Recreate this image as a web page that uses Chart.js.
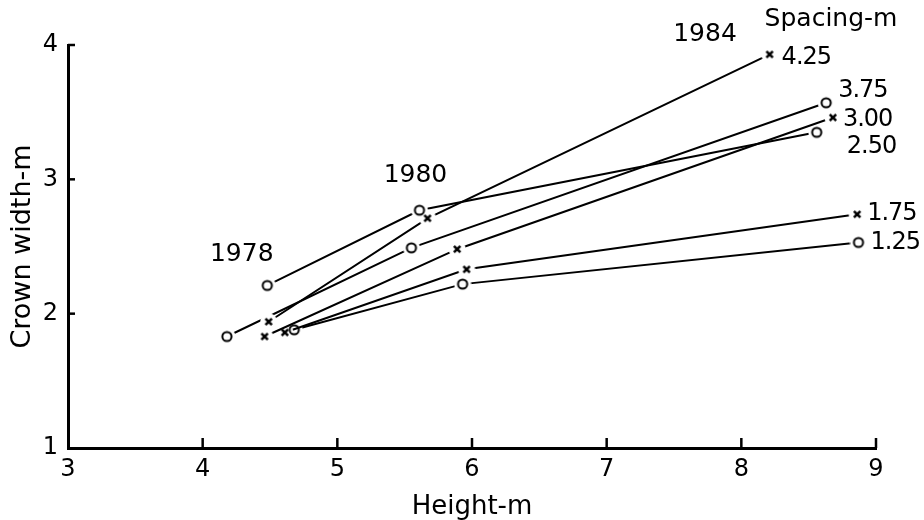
<!DOCTYPE html>
<html>
<head>
<meta charset="utf-8">
<script src="https://cdn.jsdelivr.net/npm/chart.js@4.4.1/dist/chart.umd.min.js"></script>
<style>
  html, body { margin: 0; padding: 0; background: #fff; }
  #wrap { width: 924px; height: 520px; }
</style>
</head>
<body>
<div id="wrap"><canvas id="chartCrown"></canvas></div>
<script>
// measurement years and spacings (m)
const years = ['1978', '1980', '1984'];
const spacings = ['4.25', '3.75', '3.00', '2.50', '1.75', '1.25'];
const markers = ['x', 'o', 'x', 'o', 'x', 'o'];

// mean height (m) per spacing, one value per year
const height425 = [4.49, 5.67, 8.21];
const height375 = [4.18, 5.55, 8.63];
const height300 = [4.46, 5.89, 8.68];
const height250 = [4.48, 5.61, 8.56];
const height175 = [4.61, 5.96, 8.86];
const height125 = [4.68, 5.93, 8.87];

// mean crown width (m) per spacing
const crown425 = [1.94, 2.71, 3.93];
const crown375 = [1.83, 2.49, 3.57];
const crown300 = [1.83, 2.48, 3.46];
const crown250 = [2.21, 2.77, 3.35];
const crown175 = [1.86, 2.33, 2.74];
const crown125 = [1.88, 2.22, 2.53];

const xTicks = [3, 4, 5, 6, 7, 8, 9];
const yTicks = [1, 2, 3, 4];

const heights = [height425, height375, height300, height250, height175, height125];
const crowns = [crown425, crown375, crown300, crown250, crown175, crown125];

// where the year captions sit, in data units
const yearSpots = [[4.29, 2.44], [5.58, 3.03], [7.73, 4.08]];
// label offsets (px) from the 1984 point of each line
const labelShift = [[12, 3], [12, -12], [10, 2], [30, 14], [10, 0], [12, 0]];

const FONT = '"DejaVu Sans", sans-serif';

// white disc under each point so the lines stop short of it
function makeHalo() {
    const c = document.createElement('canvas');
    c.width = 18; c.height = 18;
    const g = c.getContext('2d');
    g.fillStyle = '#fff';
    g.beginPath(); g.arc(9, 9, 8.5, 0, Math.PI * 2); g.fill();
    return c;
}

function makeMarker(kind) {
    const c = document.createElement('canvas');
    c.width = 16; c.height = 16;
    const g = c.getContext('2d');
    g.strokeStyle = '#000';
    if (kind === 'o') {
        g.lineWidth = 2;
        g.beginPath(); g.arc(8, 8, 4.6, 0, Math.PI * 2); g.stroke();
    } else {
        g.lineWidth = 2.6;
        g.beginPath();
        g.moveTo(4.8, 4.8); g.lineTo(11.2, 11.2);
        g.moveTo(11.2, 4.8); g.lineTo(4.8, 11.2);
        g.stroke();
    }
    return c;
}

const halo = makeHalo();

function seriesPoints(i) {
    return heights[i].map((h, k) => ({ x: h, y: crowns[i][k] }));
}

// lines first (with their halos), markers on top of everything
const lineSets = spacings.map((s, i) => ({
    label: s,
    data: seriesPoints(i),
    showLine: true,
    borderColor: '#000',
    borderWidth: 2,
    pointStyle: halo,
    pointRadius: 5,
    pointHoverRadius: 5,
    order: 2
}));

const markerSets = spacings.map((s, i) => ({
    label: s + ' marker',
    data: seriesPoints(i),
    showLine: false,
    pointStyle: makeMarker(markers[i]),
    pointRadius: 5,
    pointHoverRadius: 5,
    order: 1
}));

// short inward ticks on both axes
const innerTicks = {
    id: 'innerTicks',
    afterDraw(chart) {
        const { ctx, chartArea, scales } = chart;
        ctx.save();
        ctx.strokeStyle = '#000';
        ctx.lineWidth = 2.5;
        xTicks.slice(1).forEach(v => {
            const px = scales.x.getPixelForValue(v);
            ctx.beginPath(); ctx.moveTo(px, chartArea.bottom); ctx.lineTo(px, chartArea.bottom - 10); ctx.stroke();
        });
        yTicks.slice(1).forEach(v => {
            const py = scales.y.getPixelForValue(v);
            ctx.beginPath(); ctx.moveTo(chartArea.left, py); ctx.lineTo(chartArea.left + 7, py); ctx.stroke();
        });
        ctx.restore();
    }
};

// year captions, spacing labels and the legend heading
const captions = {
    id: 'captions',
    afterDatasetsDraw(chart) {
        const { ctx, scales } = chart;
        ctx.save();
        ctx.fillStyle = '#000';
        ctx.font = '25px ' + FONT;
        ctx.textAlign = 'center';
        ctx.textBaseline = 'middle';
        years.forEach((y, i) => {
            ctx.fillText(y, scales.x.getPixelForValue(yearSpots[i][0]), scales.y.getPixelForValue(yearSpots[i][1]));
        });
        ctx.textAlign = 'left';
        ctx.font = '24px ' + FONT;
        ctx.letterSpacing = '-1px';
        spacings.forEach((s, i) => {
            const last = chart.getDatasetMeta(i).data[2];
            ctx.fillText(s, last.x + labelShift[i][0], last.y + labelShift[i][1]);
        });
        ctx.letterSpacing = '0px';
        ctx.textAlign = 'center';
        ctx.font = '25px ' + FONT;
        ctx.fillText('Spacing-m', 831, 19);
        ctx.restore();
    }
};

new Chart(document.getElementById('chartCrown'), {
    type: 'scatter',
    data: { datasets: lineSets.concat(markerSets) },
    plugins: [innerTicks, captions],
    options: {
        responsive: true,
        maintainAspectRatio: false,
        animation: false,
        layout: { padding: { top: 45, right: 48, left: 0, bottom: 0 } },
        plugins: { legend: { display: false }, tooltip: { enabled: false } },
        scales: {
            x: {
                type: 'linear',
                min: 3, max: 9,
                afterBuildTicks: s => { s.ticks = xTicks.map(v => ({ value: v })); },
                afterFit: s => { s.height = 72; },
                grid: { display: false, drawTicks: false },
                border: { color: '#000', width: 3 },
                ticks: { color: '#000', font: { family: FONT, size: 24 }, padding: 7, maxRotation: 0 },
                title: { display: true, text: 'Height-m', color: '#000', font: { family: FONT, size: 26, lineHeight: 1 }, padding: { top: 0, bottom: 0 } }
            },
            y: {
                type: 'linear',
                min: 1, max: 4,
                afterBuildTicks: s => { s.ticks = yTicks.map(v => ({ value: v })); },
                afterFit: s => { s.width = 68; },
                grid: { display: false, drawTicks: false },
                border: { color: '#000', width: 3 },
                ticks: { color: '#000', font: { family: FONT, size: 24 }, padding: 10 },
                title: { display: true, text: 'Crown width-m', color: '#000', font: { family: FONT, size: 27, lineHeight: 1 }, padding: { top: 9, bottom: 0 } }
            }
        }
    }
});
</script>
</body>
</html>
